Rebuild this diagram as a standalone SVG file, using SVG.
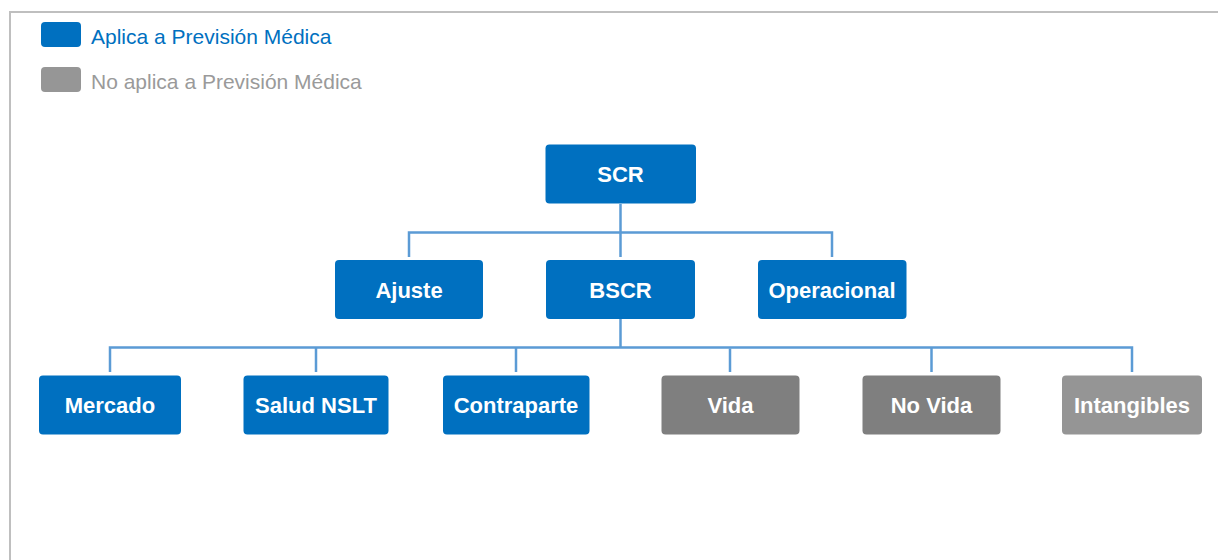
<svg xmlns="http://www.w3.org/2000/svg" width="1218" height="560" viewBox="0 0 1218 560">
<style>
.b{fill:#0070c0}
.g{fill:#7f7f7f}
.lg{fill:#959595}
.t{font-family:"Liberation Sans",Arial,sans-serif;font-weight:bold;font-size:22px;fill:#ffffff;text-anchor:middle}
.leg{font-family:"Liberation Sans",Arial,sans-serif;font-size:21px}
.c{fill:none;stroke:#5b9bd5;stroke-width:2.5}
</style>
<rect width="1218" height="560" fill="#ffffff"/>
<path d="M10,560 V12 H1218" fill="none" stroke="#bfbfbf" stroke-width="2"/>
<g id="legend">
<rect x="41" y="22" width="40" height="25" rx="4" class="b"/>
<text x="91" y="44" class="leg" fill="#0070c0">Aplica a Previsión Médica</text>
<rect x="41" y="67" width="40" height="25" rx="4" fill="#969696"/>
<text x="91" y="89" class="leg" fill="#9a9a9a">No aplica a Previsión Médica</text>
</g>
<g id="connectors">
<path class="c" d="M409,257 V232.5 H832 V257"/>
<path class="c" d="M620.5,204 V257" stroke="#4f88c6"/>
<path class="c" d="M620.5,319 V347.5"/>
<path class="c" d="M110,372 V347.5 H1132 V372"/>
<path class="c" d="M316,347.5 V372"/>
<path class="c" d="M516,347.5 V372"/>
<path class="c" d="M931.5,347.5 V372"/>
<path class="c" d="M730,348.5 V372" stroke="#548235"/>
</g>
<g id="SCR"><rect x="545.5" y="144.5" width="150.5" height="59" rx="4" class="b"/><text x="620.5" y="182" class="t">SCR</text></g>
<g id="Ajuste"><rect x="335" y="260" width="148" height="59" rx="4" class="b"/><text x="409" y="297.5" class="t">Ajuste</text></g>
<g id="BSCR"><rect x="546" y="260" width="149" height="59" rx="4" class="b"/><text x="620.5" y="297.5" class="t">BSCR</text></g>
<g id="Operacional"><rect x="758" y="260" width="148.5" height="59" rx="4" class="b"/><text x="832" y="297.5" class="t">Operacional</text></g>
<g id="Mercado"><rect x="39" y="375.5" width="142" height="59" rx="4" class="b"/><text x="110" y="413" class="t">Mercado</text></g>
<g id="SaludNSLT"><rect x="243.5" y="375.5" width="145" height="59" rx="4" class="b"/><text x="316" y="413" class="t">Salud NSLT</text></g>
<g id="Contraparte"><rect x="443" y="375.5" width="146.5" height="59" rx="4" class="b"/><text x="516" y="413" class="t">Contraparte</text></g>
<g id="Vida"><rect x="661.5" y="375.5" width="138" height="59" rx="4" class="g"/><text x="730.5" y="413" class="t">Vida</text></g>
<g id="NoVida"><rect x="862.5" y="375.5" width="138" height="59" rx="4" class="g"/><text x="931.5" y="413" class="t">No Vida</text></g>
<g id="Intangibles"><rect x="1062" y="375.5" width="140" height="59" rx="4" class="lg"/><text x="1132" y="413" class="t">Intangibles</text></g>
</svg>
